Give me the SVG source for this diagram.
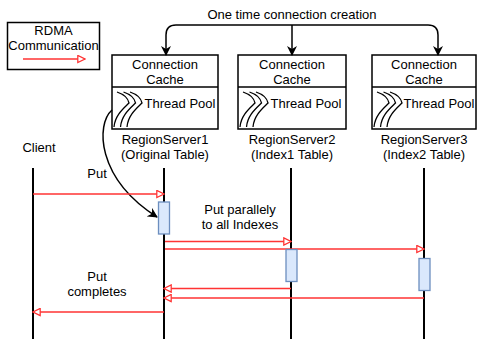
<svg xmlns="http://www.w3.org/2000/svg" width="477" height="339" viewBox="0 0 477 339">
<style>
text{font-family:"Liberation Sans",Arial,sans-serif;font-size:13px;fill:#000;text-anchor:middle}
.box{fill:#fff;stroke:#000;stroke-width:1.5}
.life{stroke:#000;stroke-width:2;fill:none}
.rdma{stroke:#ff3333;stroke-width:1.5;fill:none;marker-end:url(#open)}
.blk{stroke:#000;stroke-width:1.5;fill:none;marker-end:url(#solid)}
.act{fill:#dae8fc;stroke:#6c8ebf;stroke-width:1.3}
.wave{stroke:#000;stroke-width:1.3;fill:none}
</style>
<defs>
<marker id="open" viewBox="0 0 10 10" refX="9" refY="5" markerWidth="9" markerHeight="9" markerUnits="userSpaceOnUse" orient="auto">
<path d="M1 1 L9 5 L1 9 Z" fill="#fff" stroke="#ff3333" stroke-width="1.4"/>
</marker>
<marker id="solid" viewBox="0 0 10 10" refX="9" refY="5" markerWidth="10" markerHeight="10" markerUnits="userSpaceOnUse" orient="auto">
<path d="M0 0 L10 5 L0 10 L3 5 Z" fill="#000"/>
</marker>
</defs>

<g id="legend">
<rect class="box" x="7.5" y="22.5" width="92" height="47"/>
<text x="53.5" y="35">RDMA</text>
<text x="53.5" y="50">Communication</text>
<line class="rdma" x1="23" y1="59" x2="85" y2="59"/>
</g>

<g id="title">
<text x="292" y="19">One time connection creation</text>
</g>

<g id="rs1">
<rect class="box" x="112" y="55" width="106" height="74"/>
<line x1="112" y1="87" x2="218" y2="87" stroke="#000" stroke-width="1.5"/>
<text x="165" y="69">Connection</text>
<text x="165" y="84">Cache</text>
<g transform="translate(117,92)">
<path class="wave" d="M0 0 C6 2 11 6 12 11 C7 16 -2 23 -3 35"/>
<path class="wave" d="M6.5 0 C12.5 2 17.5 6 18.5 11 C13.5 16 4.5 23 3.5 35"/>
<path class="wave" d="M13 0 C19 2 24 6 25 11 C20 16 11 23 10 35"/>
</g>
<text x="180" y="108">Thread Pool</text>
<text x="165" y="144">RegionServer1</text>
<text x="165" y="159">(Original Table)</text>
</g>

<g id="rs2">
<rect class="box" x="238" y="55" width="108" height="74"/>
<line x1="238" y1="87" x2="346" y2="87" stroke="#000" stroke-width="1.5"/>
<text x="292" y="69">Connection</text>
<text x="292" y="84">Cache</text>
<g transform="translate(243,92)">
<path class="wave" d="M0 0 C6 2 11 6 12 11 C7 16 -2 23 -3 35"/>
<path class="wave" d="M6.5 0 C12.5 2 17.5 6 18.5 11 C13.5 16 4.5 23 3.5 35"/>
<path class="wave" d="M13 0 C19 2 24 6 25 11 C20 16 11 23 10 35"/>
</g>
<text x="306" y="108">Thread Pool</text>
<text x="292" y="144">RegionServer2</text>
<text x="292" y="159">(Index1 Table)</text>
</g>

<g id="rs3">
<rect class="box" x="372" y="55" width="104" height="74"/>
<line x1="372" y1="87" x2="476" y2="87" stroke="#000" stroke-width="1.5"/>
<text x="424" y="69">Connection</text>
<text x="424" y="84">Cache</text>
<g transform="translate(377,92)">
<path class="wave" d="M0 0 C6 2 11 6 12 11 C7 16 -2 23 -3 35"/>
<path class="wave" d="M6.5 0 C12.5 2 17.5 6 18.5 11 C13.5 16 4.5 23 3.5 35"/>
<path class="wave" d="M13 0 C19 2 24 6 25 11 C20 16 11 23 10 35"/>
</g>
<text x="439" y="108">Thread Pool</text>
<text x="424" y="144">RegionServer3</text>
<text x="424" y="159">(Index2 Table)</text>
</g>

<g id="client">
<text x="39" y="152">Client</text>
</g>

<g id="lifelines">
<line class="life" x1="33" y1="168" x2="33" y2="339"/>
<line class="life" x1="164" y1="168" x2="164" y2="339"/>
<line class="life" x1="291" y1="168" x2="291" y2="339"/>
<line class="life" x1="424" y1="168" x2="424" y2="339"/>
</g>

<g id="connectors">
<path class="blk" d="M292 25 L176 25 Q166 25 166 35 L166 55"/>
<path class="blk" d="M292 25 L292 55"/>
<path class="blk" d="M292 25 L428 25 Q438 25 438 35 L438 55"/>
<path class="blk" d="M112 110 C96 124 96 178 157 217"/>
<line class="rdma" x1="33" y1="194" x2="164" y2="194"/>
<line class="rdma" x1="165" y1="241.5" x2="291" y2="241.5"/>
<line class="rdma" x1="165" y1="249" x2="424" y2="249"/>
<line class="rdma" x1="291" y1="288.5" x2="164" y2="288.5"/>
<line class="rdma" x1="424" y1="298" x2="164" y2="298"/>
<line class="rdma" x1="164" y1="312" x2="33" y2="312"/>
</g>

<g id="activations">
<rect class="act" x="158.5" y="202" width="11" height="32"/>
<rect class="act" x="286" y="249.5" width="11" height="32"/>
<rect class="act" x="419" y="258.5" width="11" height="32"/>
</g>

<g id="labels">
<text x="97" y="178">Put</text>
<text x="240" y="214">Put parallely</text>
<text x="240" y="229">to all Indexes</text>
<text x="97" y="281">Put</text>
<text x="97" y="296">completes</text>
</g>
</svg>
